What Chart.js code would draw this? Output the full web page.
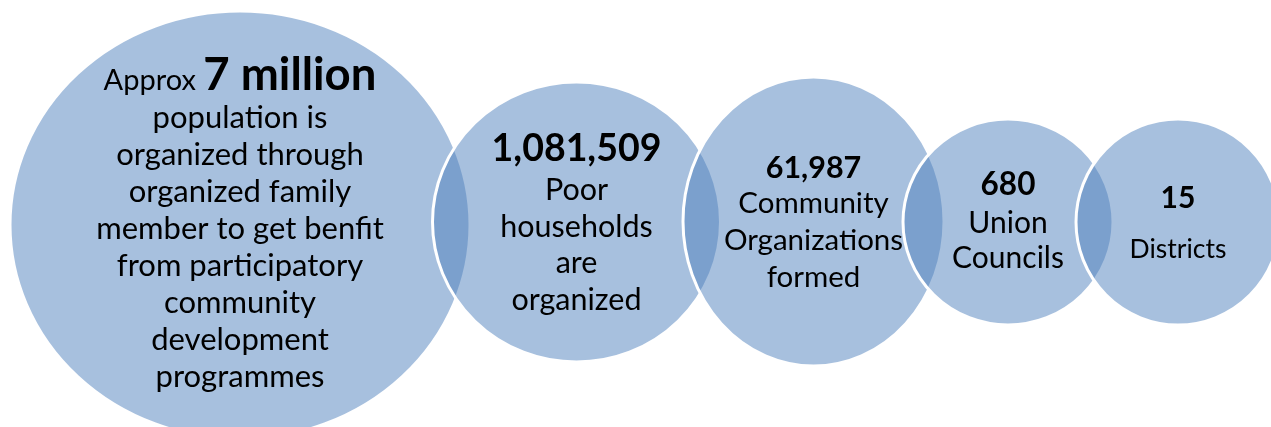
<!DOCTYPE html>
<html>
<head>
<meta charset="utf-8">
<title>Programme reach</title>
<script src="https://cdn.jsdelivr.net/npm/chart.js@4/dist/chart.umd.min.js"></script>
<style>
  html, body { margin: 0; padding: 0; background: #ffffff; overflow: hidden; }
  #wrap { width: 1271px; height: 427px; position: relative; }
</style>
</head>
<body>
<div id="wrap"><canvas id="reach"></canvas></div>
<script>
// Programme reach figures, from the widest level to the narrowest
const headlines = ['7 million', '1,081,509', '61,987', '680', '15'];
const headlinePrefix = ['Approx ', '', '', '', ''];
const descriptions = [
  ['population is', 'organized through', 'organized family', 'member to get benfit',
   'from participatory', 'community', 'development', 'programmes'],
  ['Poor', 'households', 'are', 'organized'],
  ['Community', 'Organizations', 'formed'],
  ['Union', 'Councils'],
  ['Districts']
];

// Placement of each ring on the 1271 x 427 drawing plane
const centreX = [240, 576.5, 813.5, 1008, 1178];
const centreY = [225, 222, 221.5, 222, 222];
const radiusX = [230, 144, 130.5, 105, 102];
const radiusY = [214, 140, 144.5, 103, 103];

// Type settings per ring
const FONT = 'Lato, "Open Sans", sans-serif';
const prefixSize = 29;
const headlineSize = [45.5, 37.5, 30.5, 31.5, 30];
const bodySize = [31, 30.5, 29.5, 30, 26.5];
const firstBaseline = [-135.5, -61, -43.8, -27, -13.7];
const headGap = [38.5, 39, 35.6, 37.7, 50];
const lineGap = [37, 36.5, 36.7, 35.6, 36];

const ringFill = 'rgba(79, 129, 189, 0.5)';
const ringEdge = '#ffffff';

const points = centreX.map((x, i) => ({
  x: x, y: centreY[i], r: radiusX[i], rx: radiusX[i], ry: radiusY[i]
}));

// Draws each ring as an ellipse, sized through the chart's own scales,
// then writes the figures and captions on top.
const ringPlugin = {
  id: 'rings',
  beforeDatasetDraw() {
    // the rings are painted below, in afterDatasetsDraw
    return false;
  },
  afterDatasetsDraw(chart) {
    const ctx = chart.ctx;
    const xs = chart.scales.x, ys = chart.scales.y;
    const ds = chart.data.datasets[0];
    const meta = chart.getDatasetMeta(0);

    meta.data.forEach((el, i) => {
      const d = ds.data[i];
      const rx = Math.abs(xs.getPixelForValue(d.x + d.rx) - xs.getPixelForValue(d.x));
      const ry = Math.abs(ys.getPixelForValue(d.y + d.ry) - ys.getPixelForValue(d.y));
      ctx.save();
      ctx.beginPath();
      ctx.ellipse(el.x, el.y, rx, ry, 0, 0, Math.PI * 2);
      ctx.fillStyle = ds.backgroundColor;
      ctx.fill();
      ctx.lineWidth = ds.borderWidth;
      ctx.strokeStyle = ds.borderColor;
      ctx.stroke();
      ctx.restore();
    });

    ctx.save();
    ctx.fillStyle = '#000000';
    ctx.textBaseline = 'alphabetic';
    ctx.textAlign = 'left';
    meta.data.forEach((el, i) => {
      const cx = el.x;
      let y = el.y + firstBaseline[i];
      // headline row: optional regular prefix followed by the bold figure
      const runs = [];
      if (headlinePrefix[i]) runs.push({ t: headlinePrefix[i], f: `${prefixSize}px ${FONT}` });
      runs.push({ t: headlines[i], f: `bold ${headlineSize[i]}px ${FONT}` });
      let total = 0;
      runs.forEach(r => { ctx.font = r.f; r.w = ctx.measureText(r.t).width; total += r.w; });
      let x = cx - total / 2;
      runs.forEach(r => { ctx.font = r.f; ctx.fillText(r.t, x, y); x += r.w; });
      // caption rows
      ctx.font = `${bodySize[i]}px ${FONT}`;
      descriptions[i].forEach((line, k) => {
        y += k === 0 ? headGap[i] : lineGap[i];
        const w = ctx.measureText(line).width;
        ctx.fillText(line, cx - w / 2, y);
      });
    });
    ctx.restore();
  }
};

new Chart(document.getElementById('reach'), {
  type: 'bubble',
  data: {
    datasets: [{
      label: 'Reach',
      data: points,
      backgroundColor: ringFill,
      borderColor: ringEdge,
      borderWidth: 3
    }]
  },
  options: {
    responsive: true,
    maintainAspectRatio: false,
    animation: false,
    layout: { padding: 0, autoPadding: false },
    plugins: { legend: { display: false }, tooltip: { enabled: false } },
    scales: {
      x: { type: 'linear', min: 0, max: 1271, display: false },
      y: { type: 'linear', min: 0, max: 427, reverse: true, display: false }
    }
  },
  plugins: [ringPlugin]
});
</script>
</body>
</html>
